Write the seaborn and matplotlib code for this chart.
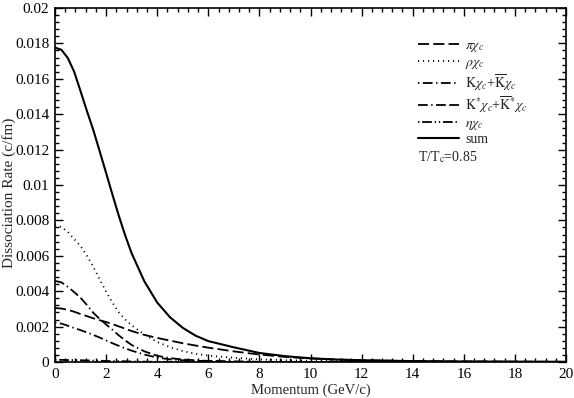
import matplotlib
matplotlib.use("Agg")
import matplotlib.pyplot as plt
import matplotlib.ticker as mticker
import seaborn as sns
import numpy as np
import pandas as pd

# valores
momentum = [0, 0.25, 0.5, 0.75, 1, 1.25, 1.5, 1.75, 2, 2.25, 2.5, 2.75, 3,
            3.5, 4, 4.5, 5, 5.5, 6, 7, 8, 9, 10, 11, 12, 14, 16, 18, 20]
pi_chi = [0.00305, 0.00302, 0.00295, 0.00284, 0.00271, 0.00259, 0.00247, 0.00236, 0.00226,
          0.00214, 0.00201, 0.00188, 0.00175, 0.00153, 0.00136, 0.00121, 0.00106, 0.00093,
          0.00081, 0.0006, 0.00042, 0.00029, 0.0002, 0.00014, 0.0001, 0.00005, 0.00003,
          0.00002, 0.00001]
rho_chi = [0.00772, 0.00763, 0.00735, 0.00695, 0.00655, 0.0060, 0.00538, 0.00466, 0.00398,
           0.00335, 0.0028, 0.0024, 0.00207, 0.00155, 0.00113, 0.00084, 0.00062, 0.00046,
           0.00036, 0.00024, 0.00015, 0.0001, 0.00007, 0.00005, 0.00003, 0.00002, 0.00001,
           0.00001, 0.0]
k_chi = [0.00222, 0.00217, 0.00205, 0.00192, 0.0018, 0.00167, 0.00153, 0.00138, 0.00122,
         0.00106, 0.00091, 0.00077, 0.00064, 0.00042, 0.00025, 0.00015, 0.0001, 0.00007,
         0.00005, 0.00002, 0.00001, 0.0, 0.0, 0.0, 0.0, 0.0, 0.0, 0.0, 0.0]
kstar_chi = [0.00458, 0.0045, 0.00425, 0.00395, 0.00363, 0.00322, 0.00278, 0.00243, 0.00212,
             0.00182, 0.0015, 0.00122, 0.00096, 0.0006, 0.00035, 0.00022, 0.00014, 0.0001,
             0.00006, 0.00003, 0.00001, 0.0, 0.0, 0.0, 0.0, 0.0, 0.0, 0.0, 0.0]
eta_chi = [0.00012, 0.00012, 0.00011, 0.00011, 0.0001, 0.00009, 0.00008, 0.00007, 0.00006,
           0.00005, 0.00005, 0.00004, 0.00003, 0.00002, 0.00001, 0.00001, 0.0, 0.0,
           0.0, 0.0, 0.0, 0.0, 0.0, 0.0, 0.0, 0.0, 0.0, 0.0, 0.0]
total = [0.01776, 0.01764, 0.01718, 0.0164, 0.0153, 0.01418, 0.0131, 0.0119, 0.01068,
         0.00945, 0.00825, 0.00714, 0.00614, 0.00455, 0.00336, 0.00253, 0.00193, 0.00149,
         0.00118, 0.00083, 0.00051, 0.00033, 0.00021, 0.00014, 0.0001, 0.00005, 0.00003,
         0.00002, 0.00001]

labels = [r'$\pi\chi_c$', r'$\rho\chi_c$',
          r'$\mathrm{K}\chi_c$+$\overline{\mathrm{K}}\chi_c$',
          r'$\mathrm{K}^{*}\chi_c$+$\overline{\mathrm{K}}^{*}\chi_c$',
          r'$\eta\chi_c$', 'sum']
series = [pi_chi, rho_chi, k_chi, kstar_chi, eta_chi, total]

dashes = {
    labels[0]: (8, 3),
    labels[1]: (0.8, 2.8),
    labels[2]: (1, 2.5, 7, 2.5),
    labels[3]: (7, 2.5, 1, 2.5, 7, 2.5),
    labels[4]: (1, 2, 7, 2, 1, 2),
    labels[5]: "",
}

if __name__ == "__main__":
    df = pd.concat([pd.DataFrame({"momentum": momentum, "rate": s, "channel": l})
                    for l, s in zip(labels, series)], ignore_index=True)

    sns.set_theme(style="ticks")
    plt.rcParams['font.family'] = ['Liberation Serif', 'DejaVu Serif']
    plt.rcParams['mathtext.fontset'] = 'stix'
    plt.rcParams['lines.scale_dashes'] = False

    fig = plt.figure(figsize=(5.74, 3.98), dpi=100)
    ax = fig.add_axes([55 / 574, 1 - 362 / 398, 511 / 574, 354 / 398])

    sns.lineplot(data=df, x="momentum", y="rate", style="channel", style_order=labels,
                 dashes=dashes, color="black", linewidth=1.3, legend=False,
                 estimator=None, ax=ax)
    for line in ax.get_lines():
        if line.get_linestyle() == '-':
            line.set_linewidth(1.5)

    ax.set_xlim(0, 20)
    ax.set_ylim(0, 0.02)
    ax.xaxis.set_major_locator(mticker.MultipleLocator(2))
    ax.xaxis.set_minor_locator(mticker.MultipleLocator(0.4))
    ax.yaxis.set_major_locator(mticker.MultipleLocator(0.002))
    ax.yaxis.set_minor_locator(mticker.MultipleLocator(0.0004))
    ax.yaxis.set_major_formatter(mticker.FuncFormatter(lambda v, p: f"{v:g}"))
    ax.tick_params(which='both', direction='in', bottom=True, left=True, top=True, right=True,
                   colors='black', labelsize=11, width=1.0)
    ax.tick_params(which='major', length=6, pad=4)
    ax.tick_params(which='minor', length=3)
    for sp in ax.spines.values():
        sp.set_visible(True)
        sp.set_color('black')
        sp.set_linewidth(1.2)

    ax.set_xlabel("Momentum (GeV/c)", fontsize=10.5, labelpad=2)
    ax.set_ylabel("Dissociation Rate (c/fm)", fontsize=11)
    ax.yaxis.set_label_coords(-0.077, 0.477)

    ax.legend(handles=ax.get_lines(), labels=labels, loc='upper left',
              bbox_to_anchor=(0.71, 0.912), frameon=False, fontsize=10,
              handlelength=2.95, handletextpad=0.45, labelspacing=0.12,
              borderpad=0, borderaxespad=0)
    ax.text(0.71, 0.58, r'T/T$_\mathrm{c}$=0.85', transform=ax.transAxes,
            fontsize=10, va='center', ha='left')

    fig.savefig("out.png", dpi=100)
